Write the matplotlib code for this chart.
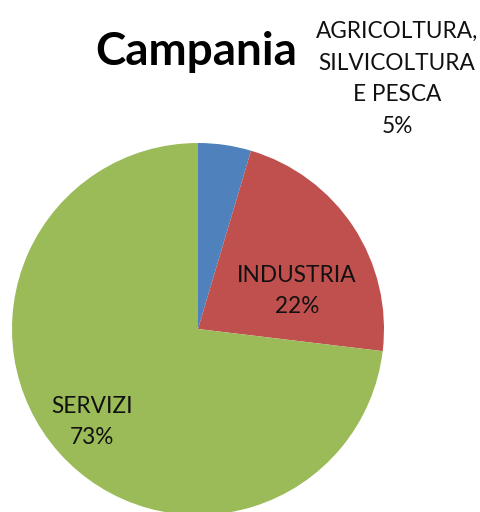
import matplotlib
matplotlib.use("Agg")
import matplotlib.pyplot as plt

# Campania – occupati per settore
categories = ["AGRICOLTURA,\nSILVICOLTURA\nE PESCA", "INDUSTRIA", "SERVIZI"]
shares = [4.6, 22.3, 73.1]
colors = ["#4F81BD", "#C0504D", "#9BBB59"]
title = "Campania"

W, H = 481, 512
plt.rcParams["font.family"] = ["Lato", "DejaVu Sans"]

fig = plt.figure(figsize=(W / 100, H / 100), dpi=100)
ax = fig.add_axes([0, 0, 1, 1])


def py(y):
    # pixel row (from top) -> data y
    return H - y


ax.pie(shares, colors=colors, startangle=90, counterclock=False,
       center=(198, py(329)), radius=186, frame=True,
       wedgeprops=dict(linewidth=0))
ax.set_xlim(0, W)
ax.set_ylim(0, H)
ax.set_aspect("equal")
ax.axis("off")

# data labels (Excel-style)
label_pos = [(397, 79), (297, 291), (92, 422)]
for cat, val, (x, y) in zip(categories, shares, label_pos):
    ax.text(x, py(y), f"{cat}\n{round(val)}%", ha="center", va="center",
            fontsize=16.3, color="#111111", linespacing=1.62)

ax.text(196, py(52), title, ha="center", va="center",
        fontsize=33, fontweight="bold", color="black")

fig.savefig("out.png", dpi=100)
